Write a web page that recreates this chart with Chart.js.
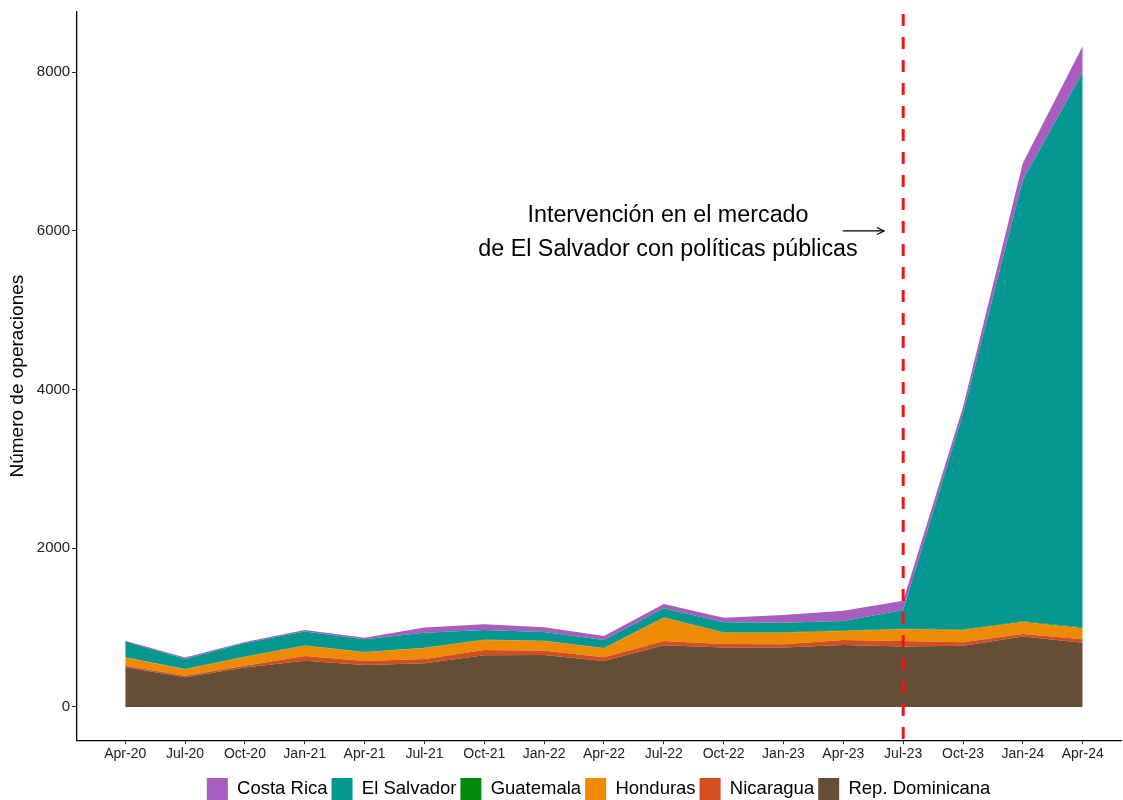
<!DOCTYPE html>
<html>
<head>
<meta charset="utf-8">
<script src="https://cdn.jsdelivr.net/npm/chart.js@4"></script>
<style>
  html, body { margin: 0; padding: 0; background: #fff; }
</style>
</head>
<body>
<canvas id="areaChart" width="1123" height="800"></canvas>
<script>
// Quarterly periods (x axis)
const quarters = ['Apr-20', 'Jul-20', 'Oct-20', 'Jan-21', 'Apr-21', 'Jul-21', 'Oct-21', 'Jan-22', 'Apr-22',
                  'Jul-22', 'Oct-22', 'Jan-23', 'Apr-23', 'Jul-23', 'Oct-23', 'Jan-24', 'Apr-24'];

// Operations per country
const repDominicana = [500, 374, 495, 583, 529, 550, 651, 655, 580, 777, 748, 748, 781, 760, 772, 886, 810];
const nicaragua     = [20, 20, 25, 60, 51, 55, 67, 54, 46, 54, 46, 42, 63, 71, 43, 34, 43];
const honduras      = [101, 81, 110, 129, 109, 138, 126, 122, 113, 294, 142, 146, 114, 148, 155, 151, 139];
const guatemala     = [4, 3, 4, 4, 4, 4, 4, 4, 4, 4, 4, 4, 4, 5, 6, 8, 10];
const elSalvador    = [198, 127, 172, 173, 160, 189, 122, 110, 101, 114, 127, 122, 122, 238, 2724, 5562, 7003];
const costaRica     = [12, 16, 13, 21, 20, 64, 72, 59, 51, 55, 58, 97, 129, 117, 80, 214, 325];

const yTicks = [0, 2000, 4000, 6000, 8000];
const interventionIndex = 13; // Jul-23

const font = "'Liberation Sans', Arial, sans-serif";

function toPoints(arr) {
    return arr.map((v, i) => ({ x: i, y: v }));
}

function areaSet(label, data, color, fill) {
    return {
        label: label,
        data: toPoints(data),
        backgroundColor: color,
        borderColor: color,
        borderWidth: 0,
        pointRadius: 0,
        tension: 0,
        fill: fill
    };
}

// Dashed intervention line + annotation text
const annotationPlugin = {
    id: 'intervention',
    afterDatasetsDraw(chart) {
        const ctx = chart.ctx;
        const xs = chart.scales.x;
        const ys = chart.scales.y;
        const xLine = xs.getPixelForValue(interventionIndex);

        ctx.save();
        ctx.strokeStyle = '#f01414';
        ctx.lineWidth = 3;
        ctx.setLineDash([12, 11]);
        ctx.beginPath();
        ctx.moveTo(xLine, chart.chartArea.top + 2);
        ctx.lineTo(xLine, chart.chartArea.bottom + 4);
        ctx.stroke();
        ctx.setLineDash([]);

        ctx.fillStyle = '#000';
        ctx.font = '23.3px ' + font;
        ctx.textAlign = 'center';
        ctx.textBaseline = 'middle';
        const tx = xs.getPixelForValue(9.07);
        ctx.fillText('Intervención en el mercado', tx, ys.getPixelForValue(6190));
        ctx.fillText('de El Salvador con políticas públicas', tx, ys.getPixelForValue(5760));

        // arrow
        const ay = ys.getPixelForValue(6000);
        const ax0 = xs.getPixelForValue(11.99);
        const ax1 = xs.getPixelForValue(12.68);
        ctx.strokeStyle = '#000';
        ctx.lineWidth = 1.2;
        ctx.beginPath();
        ctx.moveTo(ax0, ay);
        ctx.lineTo(ax1, ay);
        ctx.stroke();
        ctx.beginPath();
        ctx.moveTo(ax1 - 7, ay - 3.5);
        ctx.lineTo(ax1, ay);
        ctx.lineTo(ax1 - 7, ay + 3.5);
        ctx.stroke();
        ctx.restore();
    }
};

new Chart(document.getElementById('areaChart'), {
    type: 'line',
    data: {
        datasets: [
            areaSet('Rep. Dominicana', repDominicana, '#664E36', 'origin'),
            areaSet('Nicaragua', nicaragua, '#D34E1F', '-1'),
            areaSet('Honduras', honduras, '#EE8A04', '-1'),
            areaSet('Guatemala', guatemala, '#008B0C', '-1'),
            areaSet('El Salvador', elSalvador, '#049792', '-1'),
            areaSet('Costa Rica', costaRica, '#A95DBF', '-1')
        ]
    },
    options: {
        responsive: false,
        animation: false,
        devicePixelRatio: 1,
        layout: { padding: { top: 12, right: 2, left: 6, bottom: -10 } },
        plugins: {
            tooltip: { enabled: false },
            legend: {
                position: 'bottom',
                fullSize: false,
                labels: {
                    font: { family: font, size: 18.5 },
                    color: '#000',
                    boxWidth: 21,
                    boxHeight: 22,
                    padding: 4,
                    sort: (a, b) => b.datasetIndex - a.datasetIndex
                }
            }
        },
        scales: {
            x: {
                type: 'linear',
                min: -0.82,
                max: 16.64,
                afterBuildTicks: axis => { axis.ticks = quarters.map((q, i) => ({ value: i })); },
                afterFit: axis => { axis.height += 9; },
                ticks: {
                    autoSkip: false,
                    maxRotation: 0,
                    font: { family: font, size: 14 },
                    color: '#222',
                    padding: 2,
                    callback: value => quarters[value]
                },
                grid: { drawOnChartArea: false, drawTicks: true, tickLength: 4, color: '#222' },
                border: { display: true, color: '#000', width: 1.3 }
            },
            y: {
                stacked: true,
                min: -420,
                max: 8760,
                afterBuildTicks: axis => { axis.ticks = yTicks.map(v => ({ value: v })); },
                ticks: {
                    font: { family: font, size: 15 },
                    color: '#222',
                    padding: 2,
                    callback: value => String(value)
                },
                grid: { drawOnChartArea: false, drawTicks: true, tickLength: 4, color: '#222' },
                border: { display: true, color: '#000', width: 1.3 },
                title: {
                    display: true,
                    text: 'Número de operaciones',
                    font: { family: font, size: 19 },
                    color: '#000',
                    padding: { top: 0, bottom: 6 }
                }
            }
        }
    },
    plugins: [annotationPlugin]
});
</script>
</body>
</html>
